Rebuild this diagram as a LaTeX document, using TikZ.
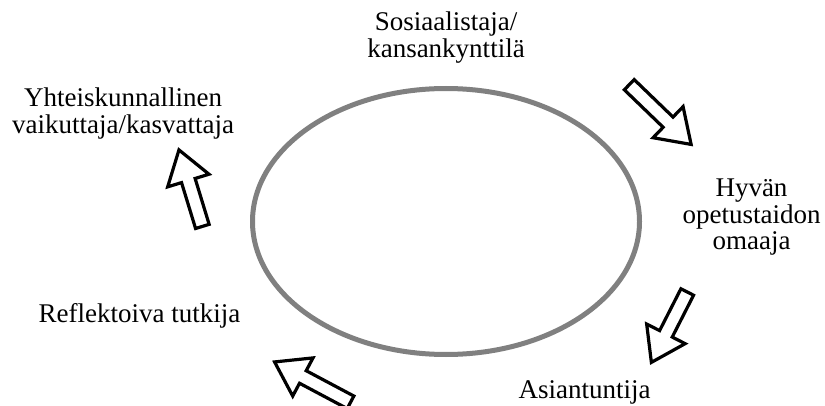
\documentclass[tikz,border=0pt]{standalone}
\usepackage{fontspec}
\setmainfont{Liberation Serif}
\usetikzlibrary{shapes.arrows}

\begin{document}
\begin{tikzpicture}[x=1pt, y=1pt,
    lbl/.style={inner sep=0pt, align=center, font=\fontsize{27}{26.5}\selectfont},
    blockarrow/.style={single arrow, draw=black, fill=white, line width=3.2pt,
      inner sep=5.5pt, single arrow head extend=14.5,
      single arrow tip angle=68, minimum height=#1},
    blockarrow/.default=84]
  \clip (0,0) rectangle (825,405);

  % the ring
  \draw[gray, line width=5pt] (446,183.5) ellipse [x radius=193.5, y radius=133];

  % roles round the ring
  \node[lbl] (sos) at (446,367.3) {Sosiaalistaja/\\kansankynttilä};
  \node[lbl] (hyv) at (751.5,187.5) {Hyvän\\opetustaidon\\omaaja};
  \node[lbl, anchor=base] (asi) at (584.5,7) {Asiantuntija};
  \node[lbl, anchor=base] (ref) at (139.5,83) {Reflektoiva tutkija};
  \node[lbl] (yht) at (123,291.3) {Yhteiskunnallinen\\vaikuttaja/kasvattaja};

  % block arrows
  \node[blockarrow=86, rotate=-44] (ar1) at (656.4,294.1) {};
  \node[blockarrow=79, rotate=-117] (ar2) at (671.7,82.5) {};
  \node[blockarrow=86, rotate=152] (ar3) at (317.2,20.4) {};
  \node[blockarrow=80, rotate=107] (ar4) at (192.2,211.8) {};
\end{tikzpicture}
\end{document}
